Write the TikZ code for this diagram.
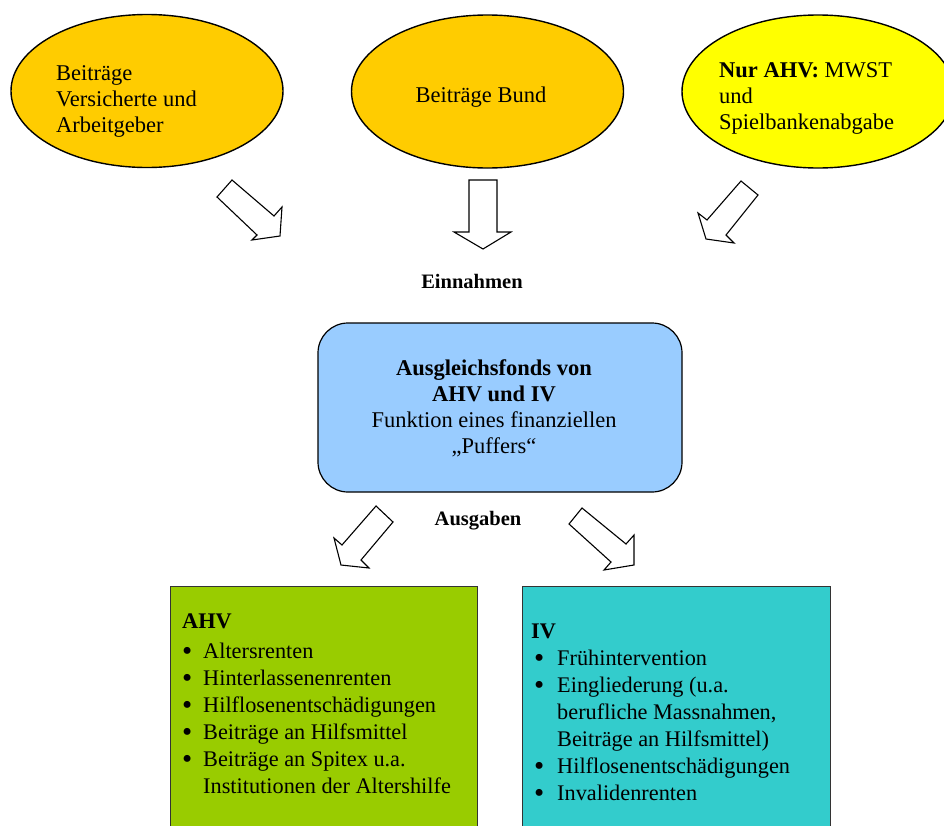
\documentclass[tikz,border=0pt]{standalone}
\usepackage{fontspec}
\usepackage{graphicx}
\setmainfont{Liberation Serif}
\usetikzlibrary{shapes.geometric}
\definecolor{orangeY}{HTML}{FFCC00}
\definecolor{yellowY}{HTML}{FFFF00}
\definecolor{blueB}{HTML}{99CCFF}
\definecolor{greenB}{HTML}{99CC00}
\definecolor{tealB}{HTML}{33CCCC}
\newcommand{\bul}{\smash{\raisebox{-2.4pt}{\scalebox{1.3}{\textbullet}}}}
\tikzset{
  src/.style={ellipse, draw=black, line width=1.4pt, minimum width=272pt, minimum height=153pt, inner sep=0pt},
  txt/.style={inner sep=0pt, font=\fontsize{22.5}{26}\selectfont},
  lbl/.style={inner sep=0pt, font=\fontsize{20.5}{24}\selectfont\bfseries},
  blockarrow/.style={draw=black, fill=white, line width=1.1pt, line join=miter},
  listbox/.style={draw=black!80, line width=1pt}
}
\begin{document}
\begin{tikzpicture}[x=1pt,y=-1pt]
\useasboundingbox (0,0) rectangle (944,825);
% sources
\node[src, fill=orangeY] (e1) at (147,91) {};
\node[src, fill=orangeY] (e2) at (487.5,91.5) {};
\node[src, fill=yellowY] (e3) at (818,91.5) {};
\node[txt, anchor=west, align=left] (t1) at (56,101) {Beiträge\\Versicherte und\\Arbeitgeber};
\node[txt] (t2) at (481,97) {Beiträge Bund};
\node[txt, anchor=west, align=left] (t3) at (719,98.5) {\textbf{Nur AHV:} MWST\\und\\Spielbankenabgabe};
% incoming arrows
\draw[blockarrow] (232,180) -- (274,216) -- (282,207) -- (280,236) -- (252,240) -- (257,235) -- (217,197) -- cycle;
\draw[blockarrow] (469,180) -- (497,180) -- (497,232) -- (511,232) -- (483,249) -- (454,232) -- (469,232) -- cycle;
\draw[blockarrow] (741,181) -- (758,195) -- (726,235) -- (734,243) -- (706,239) -- (698,213) -- (707,220) -- cycle;
\node[lbl] (ein) at (472,281) {Einnahmen};
% fund
\draw[fill=blueB, draw=black, line width=1.2pt, rounded corners=30pt] (318,323) rectangle (682,492);
\node[txt, align=center] (fund) at (494,408) {\textbf{Ausgleichsfonds von}\\\textbf{AHV und IV}\\Funktion eines finanziellen\\„Puffers“};
\node[lbl] (aus) at (478,521) {Ausgaben};
% outgoing arrows
\draw[blockarrow] (376,506) -- (393,522) -- (361,560) -- (369,568) -- (341,565) -- (334,538) -- (342,545) -- cycle;
\draw[blockarrow] (582,508) -- (626,544) -- (634,535) -- (634,565) -- (604,570) -- (611,562) -- (569,524) -- cycle;
% boxes
\draw[listbox, fill=greenB] (170,586) rectangle (477,830);
\draw[listbox, fill=tealB] (522,586) rectangle (830,830);
\node[inner sep=0pt, anchor=north west, font=\fontsize{22.3}{27}\selectfont] (ahv) at (182,609) {%
\begin{tabular}{@{}p{21pt}@{}l@{}}
\multicolumn{2}{@{}l}{\textbf{AHV}}\\[3pt]
\bul & Altersrenten\\
\bul & Hinterlassenenrenten\\
\bul & Hilflosenentschädigungen\\
\bul & Beiträge an Hilfsmittel\\
\bul & Beiträge an Spitex u.a.\\
 & Institutionen der Altershilfe
\end{tabular}};
\node[inner sep=0pt, anchor=north west, font=\fontsize{22.3}{27}\selectfont] (iv) at (531,619) {%
\begin{tabular}{@{}p{26pt}@{}l@{}}
\multicolumn{2}{@{}l}{\textbf{IV}}\\
\hspace{3pt}\bul & Frühintervention\\
\hspace{3pt}\bul & Eingliederung (u.a.\\
 & berufliche Massnahmen,\\
 & Beiträge an Hilfsmittel)\\
\hspace{3pt}\bul & Hilflosenentschädigungen\\
\hspace{3pt}\bul & Invalidenrenten
\end{tabular}};
\end{tikzpicture}
\end{document}
